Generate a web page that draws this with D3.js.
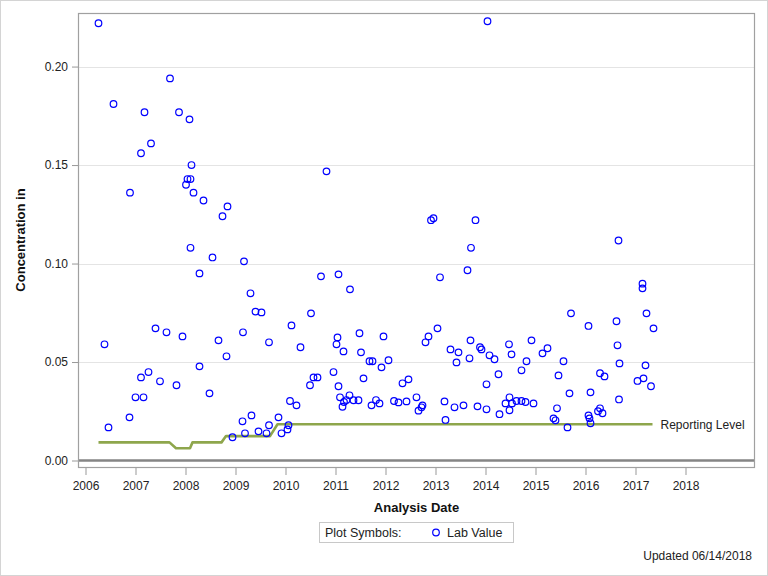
<!DOCTYPE html>
<html><head><meta charset="utf-8">
<script src="https://cdn.jsdelivr.net/npm/d3@7"></script>
<style>body{margin:0;background:#fff} svg{display:block;font-family:"Liberation Sans",Arial,sans-serif}</style>
</head><body><svg id="c" width="768" height="576"></svg>
<script>
// Analysis dates as decimal years, and lab values
const sampleYears = [2006.26,2006.38,2006.46,2006.56,2006.88,2006.89,2007.00,2007.11,2007.11,2007.16,2007.18,2007.26,2007.31,2007.40,2007.49,2007.62,2007.69,2007.82,2007.87,2007.94,
2008.01,2008.04,2008.08,2008.10,2008.10,2008.12,2008.16,2008.28,2008.28,2008.36,2008.48,2008.54,2008.66,2008.74,2008.82,2008.84,2008.94,
2009.14,2009.15,2009.17,2009.19,2009.30,2009.32,2009.40,2009.46,2009.52,2009.62,2009.67,2009.67,2009.86,2009.92,
2010.04,2010.06,2010.09,2010.12,2010.22,2010.30,2010.49,2010.51,2010.56,2010.64,2010.71,2010.82,2010.96,
2011.02,2011.04,2011.06,2011.06,2011.09,2011.14,2011.16,2011.17,2011.22,2011.28,2011.29,2011.36,2011.46,2011.48,2011.51,2011.56,2011.68,2011.72,2011.74,2011.81,2011.88,2011.92,2011.96,
2012.06,2012.17,2012.26,2012.34,2012.42,2012.46,2012.62,2012.66,2012.72,2012.74,2012.80,2012.86,2012.91,2012.96,
2013.04,2013.09,2013.18,2013.20,2013.30,2013.38,2013.42,2013.46,2013.56,2013.64,2013.68,2013.70,2013.71,2013.80,2013.84,2013.89,2013.92,
2014.02,2014.02,2014.04,2014.08,2014.18,2014.26,2014.28,2014.40,2014.47,2014.48,2014.48,2014.52,2014.53,2014.62,2014.72,2014.72,2014.80,2014.82,2014.92,2014.96,
2015.14,2015.24,2015.36,2015.40,2015.43,2015.46,2015.56,2015.64,2015.68,2015.71,
2016.06,2016.06,2016.08,2016.10,2016.10,2016.25,2016.29,2016.29,2016.34,2016.38,2016.62,2016.64,2016.66,2016.67,2016.68,
2017.04,2017.14,2017.14,2017.16,2017.20,2017.22,2017.31,2017.36];
const labValues = [0.222,0.059,0.0168,0.181,0.0219,0.136,0.0321,0.156,0.0422,0.0321,0.1768,0.0449,0.161,0.0671,0.0402,0.0651,0.194,0.0382,0.1768,0.063,
0.140,0.1429,0.1732,0.1429,0.108,0.150,0.136,0.095,0.0478,0.132,0.0341,0.1031,0.061,0.124,0.0529,0.129,0.0118,
0.0199,0.0651,0.1011,0.0138,0.0849,0.0229,0.0756,0.0148,0.0752,0.0138,0.060,0.0179,0.0219,0.0138,
0.0158,0.0179,0.0302,0.0686,0.028,0.0575,0.0382,0.0747,0.0422,0.0422,0.0935,0.1468,0.0449,
0.059,0.0625,0.0945,0.0377,0.0321,0.0273,0.0554,0.0297,0.0307,0.0331,0.0869,0.0306,0.0306,0.0646,0.0549,0.0417,0.0504,0.028,0.0504,0.0307,0.029,0.0473,0.063,
0.0509,0.0302,0.0295,0.0392,0.030,0.0412,0.0321,0.0253,0.027,0.028,0.060,0.063,0.122,0.123,
0.0671,0.093,0.030,0.0206,0.0564,0.027,0.0498,0.0549,0.028,0.0966,0.0519,0.061,0.108,0.122,0.0275,0.0575,0.0564,
0.0387,0.026,0.223,0.0534,0.0514,0.0438,0.0235,0.029,0.059,0.0321,0.0255,0.0539,0.029,0.0302,0.0458,0.0302,0.0297,0.0504,0.061,0.029,
0.0544,0.057,0.0214,0.0204,0.0265,0.0432,0.0504,0.0168,0.0341,0.0747,
0.0683,0.0229,0.0214,0.0189,0.0346,0.025,0.0265,0.0443,0.024,0.0427,0.0707,0.0585,0.1117,0.031,0.0493,
0.0404,0.0898,0.0874,0.0417,0.0483,0.0747,0.0377,0.0671];
// Reporting level step line
const reportYears = [2006.26,2007.68,2007.81,2008.09,2008.14,2008.72,2008.81,2009.69,2009.84,2017.34];
const reportLevels = [0.0092,0.0092,0.0062,0.0062,0.0092,0.0092,0.0124,0.0124,0.0184,0.0184];
const xTickYears = [2006,2007,2008,2009,2010,2011,2012,2013,2014,2015,2016,2017,2018];
const yTickValues = [0,0.05,0.10,0.15,0.20];

const svg = d3.select("#c");
const L=78, R=755, T=13, B=467;
const x = d3.scaleLinear().domain([2005.85, 2019.39]).range([L, R]);
const y = d3.scaleLinear().domain([-0.0033, 0.2272]).range([B, T]);

// page border
svg.append("rect").attr("x",0.5).attr("y",0.5).attr("width",767).attr("height",575)
  .attr("fill","#fff").attr("stroke","#d4d4d4");

// gridlines
svg.append("g").selectAll("line").data(yTickValues.filter(d=>d>0)).join("line")
  .attr("x1",L).attr("x2",R).attr("y1",d=>Math.round(y(d))+0.5).attr("y2",d=>Math.round(y(d))+0.5)
  .attr("stroke","#e4e4e4").attr("stroke-width",1);

// zero reference line
svg.append("line").attr("x1",L).attr("x2",R).attr("y1",y(0)).attr("y2",y(0))
  .attr("stroke","#858585").attr("stroke-width",2.5);

// Y axis
const yAxis = d3.axisLeft(y).tickValues(yTickValues).tickFormat(d3.format(".2f")).tickSize(6).tickPadding(4);
const gy = svg.append("g").attr("transform",`translate(${L},0)`).call(yAxis);
gy.select(".domain").remove();
gy.selectAll(".tick line").attr("stroke","#999");
gy.selectAll(".tick text").attr("fill","#222").style("font-size","12px").style("font-family","'Liberation Sans',Arial,sans-serif");

// X axis
const xAxis = d3.axisBottom(x).tickValues(xTickYears).tickFormat(d3.format("d")).tickSize(8).tickPadding(6);
const gx = svg.append("g").attr("transform",`translate(0,${B})`).call(xAxis);
gx.select(".domain").remove();
gx.selectAll(".tick line").attr("stroke","#999");
gx.selectAll(".tick text").attr("fill","#222").style("font-size","12px").style("font-family","'Liberation Sans',Arial,sans-serif");

// frame
svg.append("rect").attr("x",L+0.5).attr("y",T+0.5).attr("width",R-L-1).attr("height",B-T)
  .attr("fill","none").attr("stroke","#a0a0a0").attr("stroke-width",1.2);

// reporting level line
const rl = reportYears.map((d,i)=>[d, reportLevels[i]]);
svg.append("path").datum(rl)
  .attr("d", d3.line().x(d=>x(d[0])).y(d=>y(d[1])))
  .attr("fill","none").attr("stroke","#8ea64c").attr("stroke-width",2.6).attr("stroke-linejoin","round");
svg.append("text").attr("x", x(reportYears[reportYears.length-1])+8).attr("y", y(reportLevels[reportLevels.length-1])+4.5)
  .attr("fill","#222").style("font-size","12px").text("Reporting Level");

// points
const pts = sampleYears.map((d,i)=>[d, labValues[i]]);
svg.append("g").selectAll("circle").data(pts).join("circle")
  .attr("cx",d=>x(d[0])).attr("cy",d=>y(d[1])).attr("r",3.3)
  .attr("fill","none").attr("stroke","#0000ff").attr("stroke-width",1.2);

// axis titles
svg.append("text").attr("x",(L+R)/2).attr("y",512).attr("text-anchor","middle")
  .attr("font-weight","bold").attr("fill","#111").style("font-size","13px").text("Analysis Date");
svg.append("text").attr("transform",`translate(25,${(T+B)/2}) rotate(-90)`).attr("text-anchor","middle")
  .attr("font-weight","bold").attr("fill","#111").style("font-size","13px").text("Concentration in");

// legend
svg.append("rect").attr("x",319.5).attr("y",522.5).attr("width",194).attr("height",20)
  .attr("fill","#fff").attr("stroke","#c8c8c8");
svg.append("text").attr("x",325).attr("y",537).attr("fill","#222").style("font-size","12.5px").text("Plot Symbols:");
svg.append("circle").attr("cx",436).attr("cy",532.5).attr("r",3.3).attr("fill","none").attr("stroke","#0000ff").attr("stroke-width",1.2);
svg.append("text").attr("x",447).attr("y",537).attr("fill","#222").style("font-size","12.5px").text("Lab Value");

// footnote
svg.append("text").attr("x",752).attr("y",560).attr("text-anchor","end").attr("fill","#222")
  .style("font-size","12px").text("Updated 06/14/2018");
</script></body></html>
